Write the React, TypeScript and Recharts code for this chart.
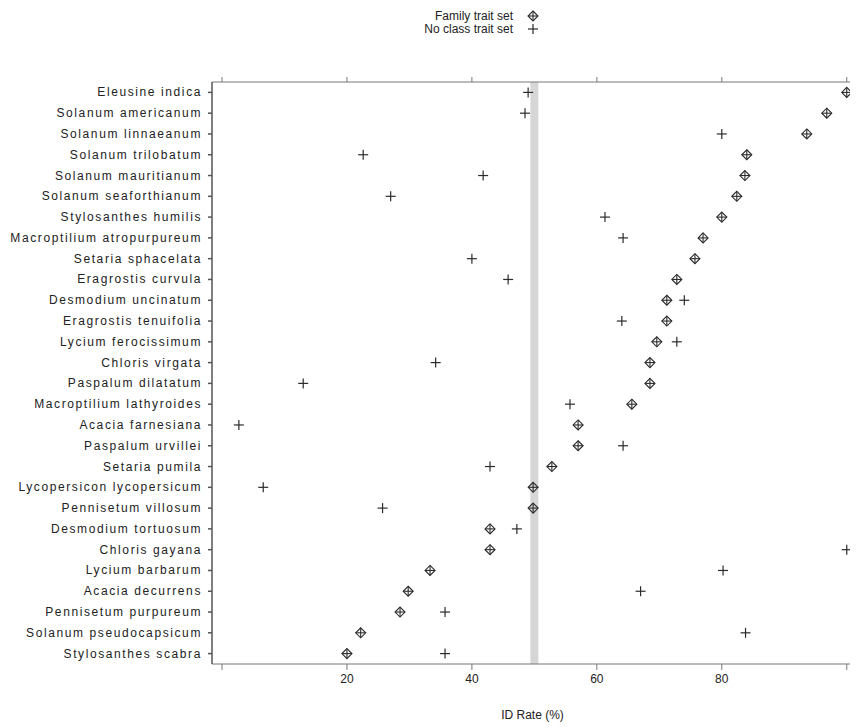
import { ScatterChart, Scatter, XAxis, YAxis, ReferenceLine } from "recharts";

const species = [
  "Eleusine indica",
  "Solanum americanum",
  "Solanum linnaeanum",
  "Solanum trilobatum",
  "Solanum mauritianum",
  "Solanum seaforthianum",
  "Stylosanthes humilis",
  "Macroptilium atropurpureum",
  "Setaria sphacelata",
  "Eragrostis curvula",
  "Desmodium uncinatum",
  "Eragrostis tenuifolia",
  "Lycium ferocissimum",
  "Chloris virgata",
  "Paspalum dilatatum",
  "Macroptilium lathyroides",
  "Acacia farnesiana",
  "Paspalum urvillei",
  "Setaria pumila",
  "Lycopersicon lycopersicum",
  "Pennisetum villosum",
  "Desmodium tortuosum",
  "Chloris gayana",
  "Lycium barbarum",
  "Acacia decurrens",
  "Pennisetum purpureum",
  "Solanum pseudocapsicum",
  "Stylosanthes scabra",
];

const familyRate = [
  100, 96.8, 93.6, 84, 83.7, 82.4, 80, 77, 75.7, 72.8, 71.2, 71.2, 69.6, 68.5,
  68.5, 65.6, 57, 57, 52.8, 49.8, 49.8, 42.9, 42.9, 33.3, 29.8, 28.5, 22.2, 20,
];

const noClassRate = [
  49, 48.5, 80, 22.6, 41.8, 27, 61.3, 64.2, 40, 45.8, 74, 64, 72.8, 34.2, 13,
  55.7, 2.7, 64.2, 42.9, 6.6, 25.7, 47.2, 100, 80.2, 67, 35.7, 83.8, 35.7,
];

const xTicks = [0, 20, 40, 60, 80, 100];
const rowTicks = species.map((_, i) => i);

const familyData = species.map((name, i) => ({ name, row: i, rate: familyRate[i] }));
const noClassData = species.map((name, i) => ({ name, row: i, rate: noClassRate[i] }));

const ink = "#2b2b2b";
const font = "'Liberation Sans', Arial, sans-serif";

const DiamondPlus = (props: any) => {
  const { cx, cy } = props;
  const r = 5;
  return (
    <g stroke={ink} strokeWidth={1.1} fill="none">
      <path d={`M${cx},${cy - r} L${cx + r},${cy} L${cx},${cy + r} L${cx - r},${cy} Z`} />
      <line x1={cx - r} y1={cy} x2={cx + r} y2={cy} />
      <line x1={cx} y1={cy - r} x2={cx} y2={cy + r} />
    </g>
  );
};

const Plus = (props: any) => {
  const { cx, cy } = props;
  const r = 5;
  return (
    <g stroke={ink} strokeWidth={1.2}>
      <line x1={cx - r} y1={cy} x2={cx + r} y2={cy} />
      <line x1={cx} y1={cy - r} x2={cx} y2={cy + r} />
    </g>
  );
};

const Nothing = () => <g />;
const NoLabel = () => <text />;

const SpeciesTick = (props: any) => {
  const { x, y, payload } = props;
  return (
    <text
      x={x}
      y={y}
      dy={4}
      textAnchor="end"
      fill="#222"
      fontSize={12}
      fontFamily={font}
      style={{ letterSpacing: "1.6px" }}
    >
      {species[payload.value]}
    </text>
  );
};

export default function App() {
  return (
    <div style={{ position: "relative", width: 850, height: 719, background: "#fff" }}>
      <div
        style={{
          position: "absolute",
          top: 2,
          left: 0,
          width: 850,
          fontFamily: font,
          fontSize: 12,
          color: "#222",
          lineHeight: "13px",
        }}
      >
        {[
          { label: "Family trait set", Mark: DiamondPlus },
          { label: "No class trait set", Mark: Plus },
        ].map(({ label, Mark }) => (
          <div key={label} style={{ position: "relative", height: 13 }}>
            <span style={{ position: "absolute", right: 850 - 505, whiteSpace: "nowrap" }}>{label}</span>
            <svg width={12} height={12} style={{ position: "absolute", left: 519, top: 0 }}>
              <Mark cx={6} cy={6} />
            </svg>
          </div>
        ))}
      </div>
      <ScatterChart width={850} height={719} margin={{ top: 44, right: 1, bottom: 8, left: 0 }}>
        <XAxis
          xAxisId="bottom"
          type="number"
          dataKey="rate"
          domain={[-1.6, 101]}
          allowDataOverflow
          ticks={xTicks}
          tickFormatter={(v: number) => (v === 0 || v === 100 ? "" : String(v))}
          tickSize={6}
          tickMargin={4}
          height={55}
          stroke="#777"
          tick={{ fill: "#222", fontSize: 12, fontFamily: font }}
          label={{ value: "ID Rate (%)", position: "insideBottom", offset: 0, fill: "#222", fontSize: 12, fontFamily: font }}
        />
        <XAxis
          xAxisId="top"
          orientation="top"
          type="number"
          dataKey="rate"
          domain={[-1.6, 101]}
          allowDataOverflow
          ticks={xTicks}
          tick={<NoLabel />}
          tickSize={5}
          height={30}
          stroke="#777"
        />
        <YAxis
          yAxisId="left"
          type="number"
          dataKey="row"
          domain={[-0.5, 27.5]}
          reversed
          allowDataOverflow
          ticks={rowTicks}
          interval={0}
          tick={<SpeciesTick />}
          tickSize={4}
          tickMargin={6}
          width={204}
          stroke="#555"
          strokeWidth={1.5}
        />
        <YAxis
          yAxisId="right"
          orientation="right"
          type="number"
          dataKey="row"
          domain={[-0.5, 27.5]}
          reversed
          allowDataOverflow
          ticks={[0]}
          tick={<NoLabel />}
          tickLine={false}
          width={4}
          stroke="#999"
        />
        <ReferenceLine xAxisId="bottom" yAxisId="left" x={50} stroke="#d6d6d6" strokeWidth={8} />
        <Scatter
          name="Family trait set"
          data={familyData}
          xAxisId="bottom"
          yAxisId="left"
          shape={<DiamondPlus />}
          isAnimationActive={false}
        />
        <Scatter
          name="No class trait set"
          data={noClassData}
          xAxisId="bottom"
          yAxisId="left"
          shape={<Plus />}
          isAnimationActive={false}
        />
        <Scatter
          data={familyData}
          xAxisId="top"
          yAxisId="right"
          shape={<Nothing />}
          isAnimationActive={false}
        />
      </ScatterChart>
    </div>
  );
}
